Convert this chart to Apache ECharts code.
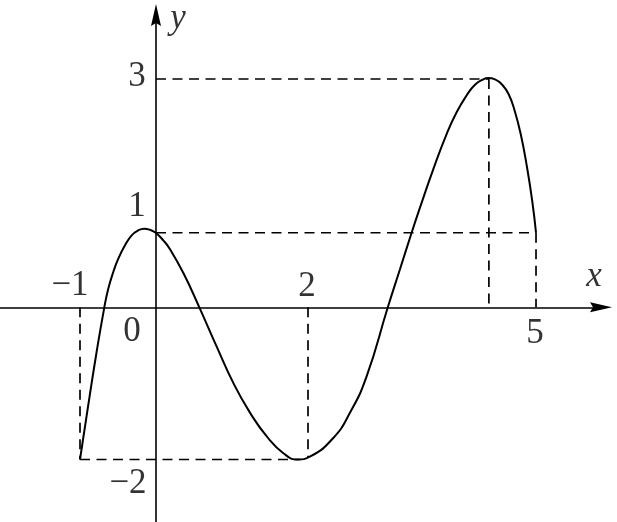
<!DOCTYPE html>
<html>
<head>
<meta charset="utf-8">
<script src="https://cdn.jsdelivr.net/npm/echarts@6/dist/echarts.min.js"></script>
<style>
html,body{margin:0;padding:0;background:#fff;}
#chart{width:617px;height:522px;}
</style>
</head>
<body>
<div id="chart"></div>
<script>
// ---- data ----
const curveX = [-1, -0.9, -0.79, -0.68, -0.628, -0.562, -0.496, -0.408, -0.32, -0.233, -0.154, -0.066, 0, 0.096, 0.18, 0.36, 0.57, 0.8, 1.02, 1.24, 1.46, 1.68, 1.86, 2.03, 2.33, 2.55, 2.77, 3.05, 3.21, 3.36, 3.48, 3.65, 3.825, 3.957, 4.088, 4.197, 4.307, 4.37, 4.46, 4.55, 4.64, 4.72, 4.8, 4.88, 4.95, 5.0];
const curveY = [-2, -1.34, -0.64, 0, 0.244, 0.464, 0.639, 0.815, 0.946, 1.012, 1.033, 1.012, 0.976, 0.88, 0.77, 0.45, 0, -0.52, -1.0, -1.39, -1.7, -1.92, -2.0, -1.96, -1.72, -1.39, -0.91, 0, 0.5, 0.97, 1.33, 1.82, 2.28, 2.566, 2.786, 2.925, 2.996, 3.013, 2.996, 2.93, 2.8, 2.58, 2.27, 1.85, 1.4, 0.98];

const guideSegments = [
  [[0, 3], [4.38, 3]],
  [[4.38, 3], [4.38, 0]],
  [[0, 0.98], [5, 0.98]],
  [[5, 0.98], [5, 0]],
  [[-1, 0], [-1, -2]],
  [[-1, -2], [1.9, -2]],
  [[2, 0], [2, -1.97]]
];

const xTickValues = [-1, 2, 5];
const xTickLabels = ['\u22121', '2', '5'];
const yTickValues = [3, 1, -2];
const yTickLabels = ['3', '1', '\u22122'];
const originLabel = '0';
const xName = 'x';
const yName = 'y';

// ---- layout / style ----
const X_MIN = -2.0526, X_MAX = 5.855;
const Y_MIN = -2.821, Y_MAX = 3.841;
const FONT = 'Liberation Serif';
const FS = 35;
const xLabelOffsets = [[-10, -22], [-1, -21], [-1, 26]];
const yLabelOffsets = [[-19, -2], [-19, -24], [-28, 24]];
const originOffset = [-24, 24];

const arrowPath = 'path://M5,0 L10,22 L5,19 L0,22 Z';

const series = [];
guideSegments.forEach(seg => {
  series.push({
    type: 'line', data: seg, showSymbol: false, silent: true, z: 1,
    lineStyle: { color: '#000', width: 1.7, type: [10, 6.5] }
  });
});
series.push({
  type: 'line', data: curveX.map((x, i) => [x, curveY[i]]),
  showSymbol: false, smooth: 0.5, z: 3,
  lineStyle: { color: '#000', width: 2 }
});

const labelData = [];
xTickValues.forEach((v, i) => labelData.push({ value: [v, 0], label: { formatter: xTickLabels[i], offset: xLabelOffsets[i] } }));
yTickValues.forEach((v, i) => labelData.push({ value: [0, v], label: { formatter: yTickLabels[i], offset: yLabelOffsets[i] } }));
labelData.push({ value: [0, 0], label: { formatter: originLabel, offset: originOffset } });
labelData.push({ value: [X_MAX, 0], label: { formatter: xName, offset: [-7, -31], fontStyle: 'italic' } });
labelData.push({ value: [0, Y_MAX], label: { formatter: yName, offset: [22, 4], fontStyle: 'italic' } });

series.push({
  type: 'scatter', data: labelData, symbolSize: 0, z: 5, silent: true,
  label: {
    show: true, position: 'inside', align: 'center', verticalAlign: 'middle',
    fontFamily: FONT, fontSize: FS, color: '#000'
  }
});

const chart = echarts.init(document.getElementById('chart'), null, { renderer: 'canvas' });
chart.setOption({
  animation: false,
  backgroundColor: '#fff',
  grid: { left: 0, right: 16, top: 15, bottom: 0, containLabel: false },
  xAxis: {
    type: 'value', min: X_MIN, max: X_MAX,
    axisLine: { onZero: true, lineStyle: { color: '#000', width: 1.6 }, symbol: ['none', arrowPath], symbolSize: [11, 22] },
    axisTick: { show: false }, axisLabel: { show: false }, splitLine: { show: false }
  },
  yAxis: {
    type: 'value', min: Y_MIN, max: Y_MAX,
    axisLine: { onZero: true, lineStyle: { color: '#000', width: 1.6 }, symbol: ['none', arrowPath], symbolSize: [11, 22] },
    axisTick: { show: false }, axisLabel: { show: false }, splitLine: { show: false }
  },
  series: series
});
</script>
</body>
</html>
